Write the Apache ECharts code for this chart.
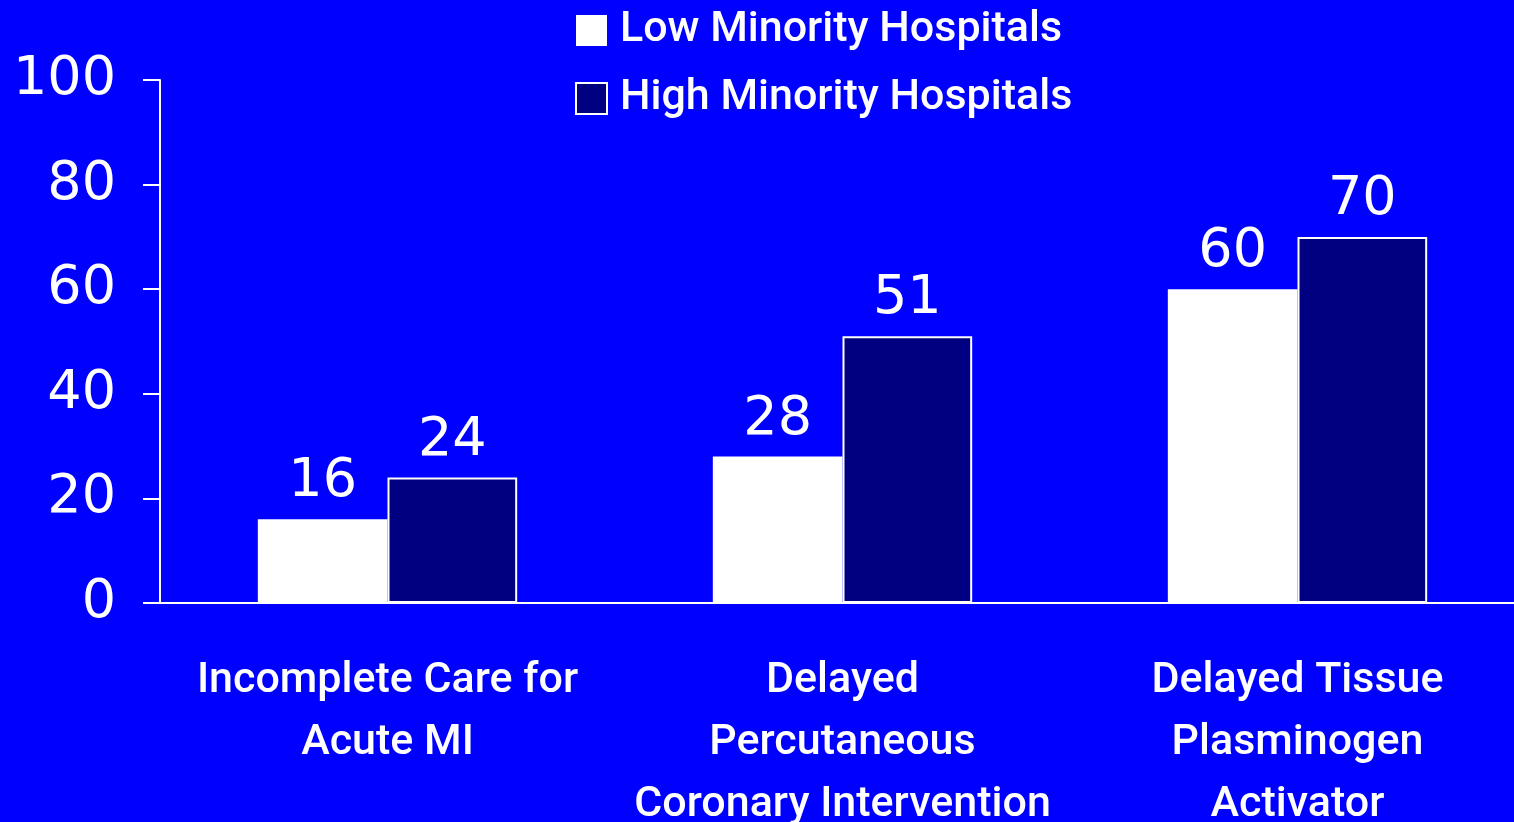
<!DOCTYPE html>
<html><head><meta charset="utf-8">
<script src="https://cdn.jsdelivr.net/npm/echarts@6/dist/echarts.min.js"></script>
<style>html,body{margin:0;padding:0;background:#0000FF;}#c{width:1514px;height:822px;}</style>
</head><body><div id="c"></div>
<script>
const categories = ["Incomplete Care for\nAcute MI", "Delayed\nPercutaneous\nCoronary Intervention", "Delayed Tissue\nPlasminogen\nActivator"];
const lowMinority = [16, 28, 60];
const highMinority = [24, 51, 70];
const seriesNames = ["Low Minority Hospitals", "High Minority Hospitals"];

const chart = echarts.init(document.getElementById('c'), null, {renderer: 'canvas'});
const labelFont = {color: '#fff', fontFamily: 'DejaVu Sans', fontSize: 54};
chart.setOption({
  backgroundColor: '#0000FF',
  animation: false,
  legend: {
    orient: 'vertical', left: 570, top: 4, itemWidth: 31, itemHeight: 31, itemGap: 25,
    icon: 'rect',
    textStyle: {color: '#fff', fontFamily: 'Roboto', fontWeight: 500, fontSize: 43, padding: [0,0,0,8]},
    data: seriesNames
  },
  grid: {left: 160, top: 80, bottom: 219, width: 1365, containLabel: false, outerBoundsMode: 'none'},
  xAxis: {
    type: 'category', data: categories,
    axisLine: {lineStyle: {color: '#fff', width: 2}},
    axisTick: {length: 15, lineStyle: {color: '#fff', width: 2}},
    axisLabel: {color: '#fff', fontFamily: 'Roboto', fontWeight: 500, fontSize: 43, lineHeight: 62, margin: 47, interval: 0}
  },
  yAxis: {
    type: 'value', min: 0, max: 100, interval: 20,
    splitLine: {show: false},
    axisLine: {show: true, lineStyle: {color: '#fff', width: 2}},
    axisTick: {show: true, length: 17, lineStyle: {color: '#fff', width: 2}},
    axisLabel: Object.assign({margin: 44}, labelFont)
  },
  series: [
    {name: seriesNames[0], type: 'bar', data: lowMinority, barGap: '0%', barCategoryGap: '43%',
     itemStyle: {color: '#fff'},
     label: Object.assign({show: true, position: 'top', distance: 10}, labelFont)},
    {name: seriesNames[1], type: 'bar', data: highMinority,
     itemStyle: {color: '#000080', borderColor: '#fff', borderWidth: 2},
     label: Object.assign({show: true, position: 'top', distance: 10}, labelFont)}
  ]
});
</script></body></html>
